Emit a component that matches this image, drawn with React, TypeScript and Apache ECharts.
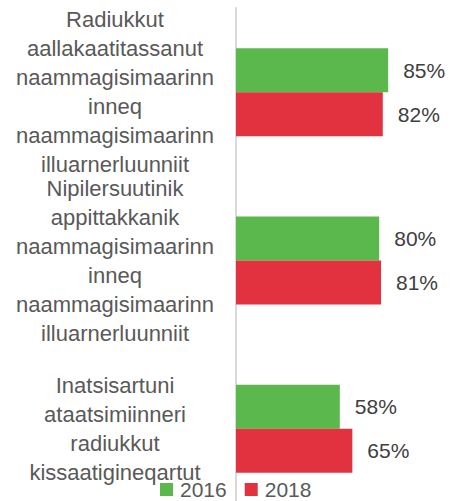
import React, { useEffect, useRef } from "react";
import * as echarts from "echarts";

const categories = [
  "Radiukkut\naallakaatitassanut\nnaammagisimaarinn\ninneq\nnaammagisimaarinn\nilluarnerluunniit",
  "Nipilersuutinik\nappittakkanik\nnaammagisimaarinn\ninneq\nnaammagisimaarinn\nilluarnerluunniit",
  "Inatsisartuni\nataatsimiinneri\nradiukkut\nkissaatigineqartut",
];
const seriesNames = ["2016", "2018"];
const values2016 = [85, 80, 58];
const values2018 = [82, 81, 65];
const colors = ["#5bb84c", "#e3323f"];

export default function App() {
  const ref = useRef<HTMLDivElement>(null);
  useEffect(() => {
    if (!ref.current) return;
    const chart = echarts.init(ref.current, undefined, { renderer: "svg" });
    const font = "'Liberation Sans', Arial, sans-serif";
    const mk = (name: string, data: number[], color: string) => ({
      name,
      type: "bar",
      data,
      barWidth: 44,
      barGap: "0%",
      itemStyle: { color },
      label: {
        show: true,
        position: "right",
        distance: 15,
        formatter: "{c}%",
        color: "#404040",
        fontSize: 21,
        fontFamily: font,
      },
    });
    chart.setOption({
      animation: false,
      textStyle: { fontFamily: font },
      grid: {
        left: 236,
        width: 179,
        top: 8,
        height: 505,
        containLabel: false,
        outerBoundsMode: "none",
      },
      legend: {
        data: seriesNames,
        left: 155,
        top: 474,
        itemWidth: 13,
        itemHeight: 13,
        itemGap: 18,
        icon: "rect",
        textStyle: { color: "#595959", fontSize: 21, fontFamily: font, padding: [0, 0, 0, 2] },
      },
      xAxis: {
        type: "value",
        min: 0,
        max: 100,
        show: false,
      },
      yAxis: {
        type: "category",
        data: categories,
        inverse: true,
        axisLine: { show: true, lineStyle: { color: "#d9d9d9", width: 2 } },
        axisTick: { show: false },
        axisLabel: {
          interval: 0,
          align: "center",
          margin: 121,
          color: "#595959",
          fontSize: 22,
          lineHeight: 29,
          fontFamily: font,
        },
      },
      series: [mk(seriesNames[0], values2016, colors[0]), mk(seriesNames[1], values2018, colors[1])],
    });
    return () => chart.dispose();
  }, []);
  return <div ref={ref} style={{ width: 454, height: 501, position: "absolute", left: 0, top: 0 }} />;
}
